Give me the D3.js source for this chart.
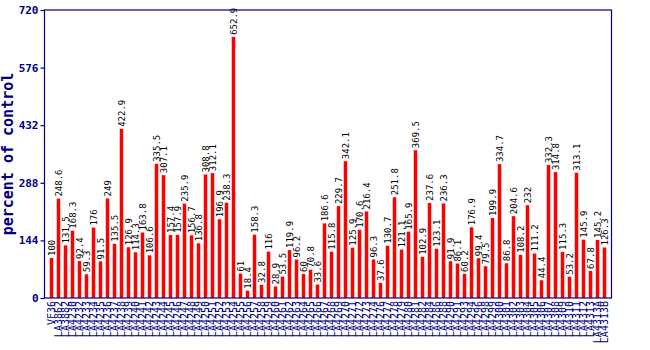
<!DOCTYPE html>
<html><head><meta charset="utf-8">
<script src="https://cdn.jsdelivr.net/npm/d3@7"></script>
<style>body{margin:0;background:#fff}svg{display:block}</style>
</head><body>
<svg id="c" width="650" height="350"></svg>
<script>
const categories = ["VF36","LA3862","LA3882","LA4230","LA4232","LA4233","LA4234","LA4235","LA4236","LA4237",
"LA4238","LA4239","LA4240","LA4241","LA4242","LA4243","LA4244","LA4245","LA4246","LA4247",
"LA4248","LA4249","LA4250","LA4251","LA4252","LA4253","LA4254","LA4255","LA4256","LA4257",
"LA4258","LA4259","LA4260","LA4261","LA4262","LA4263","LA4264","LA4265","LA4266","LA4267",
"LA4268","LA4269","LA4270","LA4271","LA4272","LA4273","LA4274","LA4276","LA4277","LA4278",
"LA4279","LA4280","LA4281","LA4282","LA4284","LA4286","LA4288","LA4290","LA4291","LA4293",
"LA4294","LA4296","LA4298","LA4299","LA4300","LA4301","LA4302","LA4303","LA4304","LA4305",
"LA4306","LA4307","LA4308","LA4309","LA4310","LA4311","LA4312","LA4313","LA4313A","LA4313B"];
const values = [100,248.6,131.5,168.3,92.4,59.3,176,91.5,249,135.5,
422.9,126.9,114.3,163.8,106.6,335.5,307.1,157.4,157.9,235.9,
156.7,136.8,308.8,312.1,196.9,238.3,652.9,61,18.4,158.3,
32.8,116,28.9,53.5,119.9,96.2,60,70.8,33.6,186.6,
115.8,229.7,342.1,125.9,170.6,216.4,96.3,37.6,130.7,251.8,
121.1,165.9,369.5,102.9,237.6,123.1,236.3,91.9,86.1,60.2,
176.9,99.4,79.5,199.9,334.7,86.8,204.6,108.2,232,111.2,
44.4,332.3,314.8,115.3,53.2,313.1,145.9,67.8,145.2,126.3];
const yTicks = [0,144,288,432,576,720];
const yTitle = "percent of control";

const svg = d3.select("#c");
const L=44.5, R=611.5, T=10, B=298;
const navy="#000080";
const x = d3.scaleBand().domain(categories).range([48,608]).paddingInner(0.5).paddingOuter(0.25);
const y = d3.scaleLinear().domain([0,720]).range([B,T]);

svg.append("g").selectAll("rect").data(values).join("rect")
  .attr("x",(d,i)=>x(categories[i])).attr("width",x.bandwidth())
  .attr("y",d=>y(d)).attr("height",d=>B-y(d)).attr("fill","#ff0000");

svg.append("g").selectAll("text").data(values).join("text")
  .attr("transform",(d,i)=>`translate(${x(categories[i])+x.bandwidth()/2+3},${y(d)-2}) rotate(-90)`)
  .attr("font-family","DejaVu Sans Mono, monospace").attr("font-size",9).attr("fill","#000")
  .text(d=>d);

svg.append("rect").attr("x",L).attr("y",T).attr("width",R-L).attr("height",B-T)
  .attr("fill","none").attr("stroke",navy).attr("stroke-width",1.2);

const ya = svg.append("g").attr("transform",`translate(${L},0)`)
  .call(d3.axisLeft(y).tickValues(yTicks).tickSize(4).tickPadding(2).tickFormat(d3.format("d")));
ya.select(".domain").remove();
ya.selectAll("line").attr("stroke",navy).attr("stroke-width",1.2);
ya.selectAll("text").attr("fill",navy).attr("font-family","DejaVu Sans Mono, monospace")
  .attr("font-size",11).attr("font-weight","bold");

svg.append("text").attr("transform",`translate(13,${(T+B)/2}) rotate(-90)`)
  .attr("text-anchor","middle").attr("font-family","DejaVu Sans Mono, monospace")
  .attr("font-size",15).attr("font-weight","bold").attr("fill",navy).text(yTitle);

const xa = svg.append("g").attr("transform",`translate(0,${B})`)
  .call(d3.axisBottom(x).tickSize(0).tickPadding(0));
xa.select(".domain").remove();
xa.selectAll("text").attr("fill",navy).attr("font-family","DejaVu Sans Mono, monospace")
  .attr("font-size",10).attr("text-anchor","end").attr("dy",null)
  .attr("transform","translate(3.5,3) rotate(-90)");
</script>
</body></html>
